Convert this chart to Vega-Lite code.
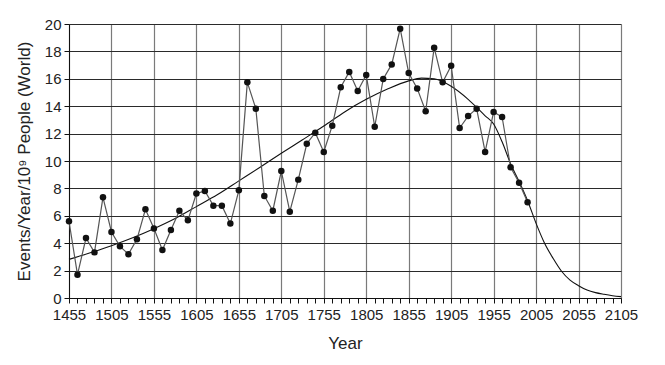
{
  "$schema": "https://vega.github.io/schema/vega-lite/v6.json",
  "width": 552,
  "height": 274,
  "autosize": "none",
  "padding": {"left": 69, "top": 24, "right": 44, "bottom": 67},
  "background": "white",
  "config": {
    "view": {"stroke": null},
    "font": "Liberation Sans",
    "axis": {"labelFont": "Liberation Sans", "titleFont": "Liberation Sans", "labelColor": "#222", "titleColor": "#222", "titleFontWeight": "normal", "domainColor": "#111", "tickColor": "#111"}
  },
  "datasets": {
    "obs": [
      {"year": 1455, "rate": 5.6}, {"year": 1465, "rate": 1.7}, {"year": 1475, "rate": 4.38}, {"year": 1485, "rate": 3.33},
      {"year": 1495, "rate": 7.35}, {"year": 1505, "rate": 4.82}, {"year": 1515, "rate": 3.77}, {"year": 1525, "rate": 3.2},
      {"year": 1535, "rate": 4.28}, {"year": 1545, "rate": 6.47}, {"year": 1555, "rate": 5.08}, {"year": 1565, "rate": 3.5},
      {"year": 1575, "rate": 4.96}, {"year": 1585, "rate": 6.37}, {"year": 1595, "rate": 5.67}, {"year": 1605, "rate": 7.62},
      {"year": 1615, "rate": 7.81}, {"year": 1625, "rate": 6.74}, {"year": 1635, "rate": 6.74}, {"year": 1645, "rate": 5.43},
      {"year": 1655, "rate": 7.86}, {"year": 1665, "rate": 15.74}, {"year": 1675, "rate": 13.82}, {"year": 1685, "rate": 7.45},
      {"year": 1695, "rate": 6.37}, {"year": 1705, "rate": 9.27}, {"year": 1715, "rate": 6.3}, {"year": 1725, "rate": 8.64},
      {"year": 1735, "rate": 11.26}, {"year": 1745, "rate": 12.07}, {"year": 1755, "rate": 10.66}, {"year": 1765, "rate": 12.58},
      {"year": 1775, "rate": 15.38}, {"year": 1785, "rate": 16.5}, {"year": 1795, "rate": 15.11}, {"year": 1805, "rate": 16.28},
      {"year": 1815, "rate": 12.5}, {"year": 1825, "rate": 15.99}, {"year": 1835, "rate": 17.05}, {"year": 1845, "rate": 19.66},
      {"year": 1855, "rate": 16.42}, {"year": 1865, "rate": 15.3}, {"year": 1875, "rate": 13.63}, {"year": 1885, "rate": 18.27},
      {"year": 1895, "rate": 15.74}, {"year": 1905, "rate": 16.96}, {"year": 1915, "rate": 12.41}, {"year": 1925, "rate": 13.28},
      {"year": 1935, "rate": 13.82}, {"year": 1945, "rate": 10.66}, {"year": 1955, "rate": 13.58}, {"year": 1965, "rate": 13.21},
      {"year": 1975, "rate": 9.54}, {"year": 1985, "rate": 8.42}, {"year": 1995, "rate": 6.99}
    ],
    "fit": [
      {"year": 1455, "rate": 2.82}, {"year": 1480, "rate": 3.3}, {"year": 1505, "rate": 3.82}, {"year": 1530, "rate": 4.4},
      {"year": 1555, "rate": 5.06}, {"year": 1580, "rate": 5.8}, {"year": 1605, "rate": 6.67}, {"year": 1630, "rate": 7.55},
      {"year": 1655, "rate": 8.55}, {"year": 1680, "rate": 9.55}, {"year": 1705, "rate": 10.56}, {"year": 1730, "rate": 11.55},
      {"year": 1755, "rate": 12.55}, {"year": 1780, "rate": 13.6}, {"year": 1805, "rate": 14.5}, {"year": 1830, "rate": 15.25},
      {"year": 1855, "rate": 15.85}, {"year": 1870, "rate": 16.05}, {"year": 1885, "rate": 16.0}, {"year": 1905, "rate": 15.45},
      {"year": 1925, "rate": 14.5}, {"year": 1945, "rate": 13.3}, {"year": 1955, "rate": 12.7}, {"year": 1965, "rate": 11.4},
      {"year": 1975, "rate": 9.8}, {"year": 1985, "rate": 8.5}, {"year": 1995, "rate": 7.1}, {"year": 2005, "rate": 5.45},
      {"year": 2015, "rate": 4.0}, {"year": 2025, "rate": 2.9}, {"year": 2035, "rate": 1.95}, {"year": 2045, "rate": 1.3},
      {"year": 2055, "rate": 0.9}, {"year": 2065, "rate": 0.58}, {"year": 2075, "rate": 0.39}, {"year": 2085, "rate": 0.27},
      {"year": 2095, "rate": 0.17}, {"year": 2105, "rate": 0.1}
    ]
  },
  "encoding": {
    "x": {
      "field": "year", "type": "quantitative",
      "scale": {"domain": [1455, 2105], "nice": false, "zero": false},
      "axis": {
        "title": "Year", "titleFontSize": 17, "titlePadding": 13,
        "values": [1455,1465,1475,1485,1495,1505,1515,1525,1535,1545,1555,1565,1575,1585,1595,1605,1615,1625,1635,1645,1655,1665,1675,1685,1695,1705,1715,1725,1735,1745,1755,1765,1775,1785,1795,1805,1815,1825,1835,1845,1855,1865,1875,1885,1895,1905,1915,1925,1935,1945,1955,1965,1975,1985,1995,2005,2015,2025,2035,2045,2055,2065,2075,2085,2095,2105],
        "labelExpr": "(datum.value - 1455) % 50 == 0 ? datum.value + '' : ''",
        "labelFontSize": 15, "labelPadding": 4, "labelOverlap": false, "labelFlush": false,
        "tickSize": 5, "tickWidth": 1,
        "grid": true, "gridColor": "#7a7a7a", "gridWidth": 1.2,
        "gridOpacity": {"condition": {"test": "(datum.value - 1455) % 50 != 0", "value": 0}, "value": 1}
      }
    },
    "y": {
      "field": "rate", "type": "quantitative",
      "scale": {"domain": [0, 20], "nice": false},
      "axis": {
        "title": "Events/Year/10⁹ People (World)", "titleFontSize": 17, "titlePadding": 11,
        "values": [0,2,4,6,8,10,12,14,16,18,20],
        "labelFontSize": 15, "labelPadding": 3, "tickSize": 5,
        "grid": true, "gridColor": "#2a2a2a", "gridWidth": 1
      }
    }
  },
  "layer": [
    {"data": {"name": "fit"}, "mark": {"type": "line", "interpolate": "monotone", "color": "#111", "strokeWidth": 1.1}},
    {"data": {"name": "obs"}, "mark": {"type": "line", "color": "#555", "strokeWidth": 1.2}},
    {"data": {"name": "obs"}, "mark": {"type": "point", "filled": true, "color": "#111", "size": 42, "opacity": 1}}
  ]
}
